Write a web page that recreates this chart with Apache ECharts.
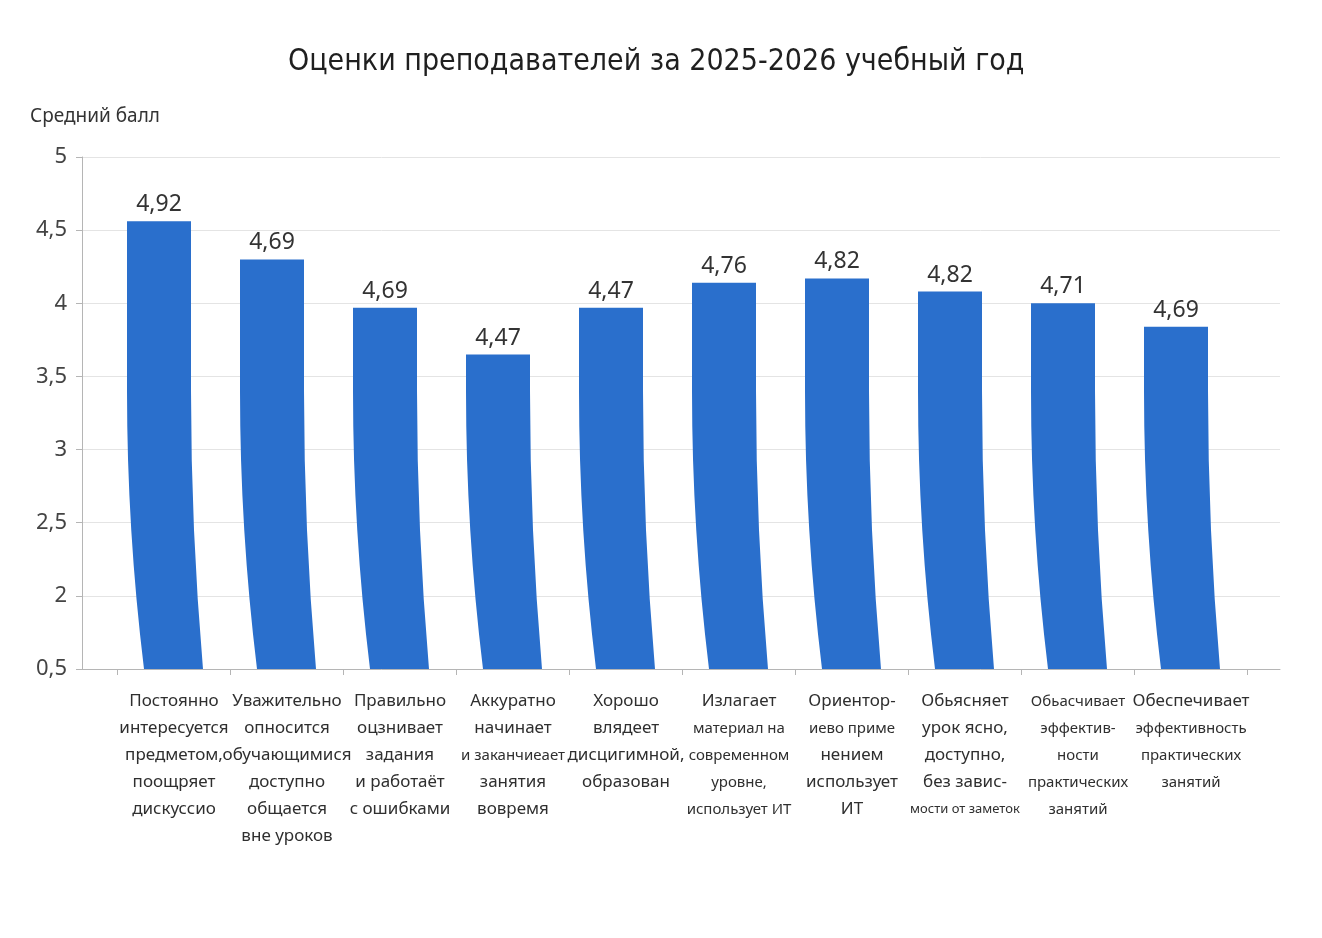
<!DOCTYPE html>
<html>
<head>
<meta charset="utf-8">
<script src="https://cdn.jsdelivr.net/npm/echarts@6/dist/echarts.min.js"></script>
<style>
html,body{margin:0;padding:0;background:#ffffff;}
#chart{width:1322px;height:938px;}
</style>
</head>
<body>
<div id="chart"></div>
<script>
// ---- data ----
var titleText = 'Оценки преподавателей за 2025-2026 учебный год';
var yAxisName = 'Средний балл';
var categories = [
  'Постоянно\nинтересуется\nпредметом,\nпоощряет\nдискуссио',
  'Уважительно\nопносится\nобучающимися\nдоступно\nобщается\nвне уроков',
  'Правильно\nоцзнивает\nзадания\nи работаёт\nс ошибками',
  'Аккуратно\nначинает\n{s|и заканчиеает}\nзанятия\nвовремя',
  'Хорошо\nвлядеет\nдисцигимной,\nобразован',
  'Излагает\n{s|материал на}\n{s|современном}\n{s|уровне,}\n{s|использует ИТ}',
  'Ориентор-\n{s|иево приме}\nнением\nиспользует\nИТ',
  'Обьясняет\nурок ясно,\nдоступно,\nбез завис-\n{xs|мости от заметок}',
  '{s|Обьасчивает}\n{s|эффектив-}\n{s|ности}\n{s|практических}\n{s|занятий}',
  'Обеспечивает\n{s|эффективность}\n{s|практических}\n{s|занятий}'
];
var barValues   = [4.56, 4.30, 3.97, 3.65, 3.97, 4.14, 4.17, 4.08, 4.00, 3.84];
var labelValues = ['4,92', '4,69', '4,69', '4,47', '4,47', '4,76', '4,82', '4,82', '4,71', '4,69'];
var yTickLabels = ['0,5', '2', '2,5', '3', '3,5', '4', '4,5', '5'];
var yMin = 1.5, yMax = 5, yStep = 0.5;

// ---- chart ----
var chart = echarts.init(document.getElementById('chart'));
var barColor = '#2a6fcc';
var font = "'Noto Sans', 'Open Sans', sans-serif";

function tickLabel(v) {
  var idx = Math.round((v - yMin) / yStep);
  return yTickLabels[idx] !== undefined ? yTickLabels[idx] : '';
}

function renderBar(params, api) {
  var i = api.value(0), v = api.value(1);
  var top = api.coord([i, v]);
  var base = api.coord([i, yMin]);
  var bendStart = api.coord([i, Math.min(v, 3.4)])[1];
  var shift = 15, hw = 32, dL = 17, dR = 12;
  var tx = top[0] - shift;
  var yt = top[1], yb = base[1], y0 = bendStart;
  var ym = (y0 + yb) / 2;
  var d = 'M' + (tx - hw) + ' ' + yt +
          ' L' + (tx + hw) + ' ' + yt +
          ' L' + (tx + hw) + ' ' + y0 +
          ' Q' + (tx + hw) + ' ' + ym + ' ' + (tx + hw + dR) + ' ' + yb +
          ' L' + (tx - hw + dL) + ' ' + yb +
          ' Q' + (tx - hw) + ' ' + ym + ' ' + (tx - hw) + ' ' + y0 + ' Z';
  return {
    type: 'group',
    children: [
      { type: 'path', shape: { pathData: d }, style: { fill: barColor } },
      { type: 'text', style: {
          text: labelValues[params.dataIndex], x: tx, y: yt - 5,
          align: 'center', verticalAlign: 'bottom',
          fontSize: 23, fontFamily: font, fill: '#333333'
      } }
    ]
  };
}

var option = {
  backgroundColor: '#ffffff',
  animation: false,
  title: {
    text: titleText, left: 283, top: 42,
    textStyle: { fontSize: 30, fontWeight: 500, color: '#1f1f1f', fontFamily: "'Liberation Sans Narrow', 'DejaVu Sans Condensed', 'Noto Sans', sans-serif" }
  },
  graphic: [{
    type: 'text', left: 30, top: 107,
    style: { text: yAxisName, fontSize: 19, fontFamily: font, fill: '#333333' }
  }],
  grid: [
    { left: 82, right: 42, top: 157, bottom: 269 },
    { left: 117.5, right: 74.5, top: 157, bottom: 269 }
  ],
  xAxis: [
    { type: 'value', gridIndex: 0, min: 0, max: 1, show: true,
      axisLine: { show: true, onZero: false, lineStyle: { color: '#b5b5b5', width: 1 } },
      axisTick: { show: false }, axisLabel: { show: false }, splitLine: { show: false } },
    { type: 'category', gridIndex: 1, data: categories, boundaryGap: true,
      axisLine: { show: false },
      axisTick: { show: true, length: 6, lineStyle: { color: '#b5b5b5' } },
      axisLabel: {
        interval: 0, margin: 19, fontSize: 17, lineHeight: 27, color: '#2f2f2f', fontFamily: font,
        rich: {
          s: { fontSize: 15, lineHeight: 27, color: '#2f2f2f', fontFamily: font },
          xs: { fontSize: 13, lineHeight: 27, color: '#2f2f2f', fontFamily: font }
        }
      },
      splitLine: { show: false } }
  ],
  yAxis: [
    { type: 'value', gridIndex: 0, min: yMin, max: yMax, interval: yStep,
      axisLine: { show: true, lineStyle: { color: '#b5b5b5' } },
      axisTick: { show: true, inside: false, length: 6, lineStyle: { color: '#b5b5b5' } },
      axisLabel: { margin: 15, fontSize: 22, color: '#444444', fontFamily: font, formatter: tickLabel },
      splitLine: { show: true, lineStyle: { color: '#e4e4e4', width: 1 } } },
    { type: 'value', gridIndex: 1, min: yMin, max: yMax, interval: yStep, show: false,
      splitLine: { show: false } }
  ],
  series: [{
    type: 'custom',
    xAxisIndex: 1, yAxisIndex: 1,
    renderItem: renderBar,
    encode: { x: 0, y: 1 },
    data: barValues.map(function (v, i) { return [i, v]; }),
    clip: false
  }]
};
chart.setOption(option);
</script>
</body>
</html>
